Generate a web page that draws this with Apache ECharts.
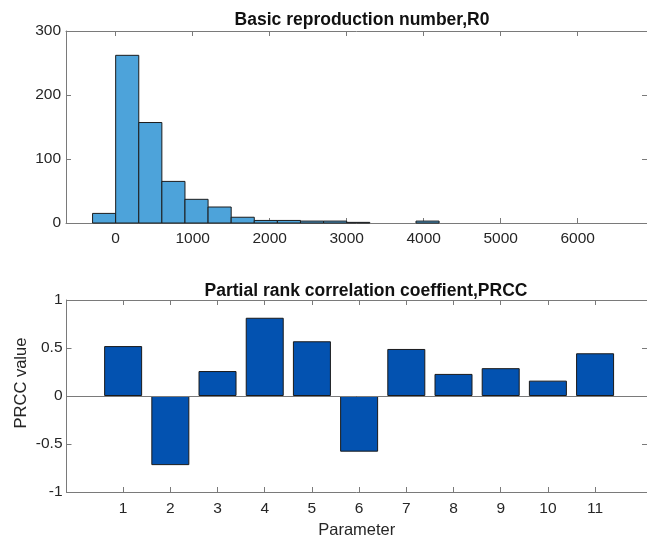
<!DOCTYPE html>
<html>
<head>
<meta charset="utf-8">
<script src="https://cdn.jsdelivr.net/npm/echarts@6/dist/echarts.min.js"></script>
<style>html,body{margin:0;padding:0;background:#fff;}#c{width:647px;height:541px;}</style>
</head>
<body>
<div id="c"></div>
<script>
// Histogram of R0: bin edges (lower, upper) and counts
var binLower = [-300, 0, 300, 600, 900, 1200, 1500, 1800, 2100, 2400, 2700, 3000, 3900];
var binUpper = [0, 300, 600, 900, 1200, 1500, 1800, 2100, 2400, 2700, 3000, 3300, 4200];
var binCounts = [15, 262, 157, 65, 37, 25, 9, 4, 4, 3, 3, 1, 3];
var histXTicks = [0, 1000, 2000, 3000, 4000, 5000, 6000];

// PRCC
var parameters = [1, 2, 3, 4, 5, 6, 7, 8, 9, 10, 11];
var prccValues = [0.52, -0.72, 0.26, 0.815, 0.57, -0.58, 0.49, 0.23, 0.29, 0.16, 0.445];

var FONT = '"Liberation Sans", Arial, Helvetica, sans-serif';
var AX = '#7a7a7a';
var TXT = '#262626';

var histData = binLower.map(function (lo, i) { return [lo, binUpper[i], binCounts[i]]; });
var prccData = parameters.map(function (p, i) { return [p, prccValues[i]]; });

var chart = echarts.init(document.getElementById('c'), null, { renderer: 'canvas' });

function plain(v) { return String(v); }
function axLine() { return { show: true, onZero: false, lineStyle: { color: AX, width: 1 } }; }
function tick() { return { show: true, inside: true, length: 5, lineStyle: { color: AX } }; }

var option = {
  backgroundColor: '#fff',
  animation: false,
  title: [
    { text: 'Basic reproduction number,R0', left: 357, top: 6, textAlign: 'center',
      textStyle: { fontFamily: FONT, fontSize: 17.5, fontWeight: 'bold', color: '#111' } },
    { text: 'Partial rank correlation coeffient,PRCC', left: 361, top: 277, textAlign: 'center',
      textStyle: { fontFamily: FONT, fontSize: 17.5, fontWeight: 'bold', color: '#111' } }
  ],
  grid: [
    { left: 66, top: 31, width: 582, height: 192 },
    { left: 66.5, top: 300, width: 582, height: 192 }
  ],
  xAxis: [
    { type: 'value', gridIndex: 0, min: -645, max: 6900, position: 'bottom',
      splitLine: { show: false }, axisLine: axLine(),
      axisTick: { show: true, inside: true, length: 5, customValues: histXTicks, lineStyle: { color: AX } },
      axisLabel: { customValues: histXTicks, formatter: plain, color: TXT, fontFamily: FONT, fontSize: 15.5, margin: 8 } },
    { type: 'value', gridIndex: 0, min: -645, max: 6900, position: 'top',
      splitLine: { show: false }, axisLine: axLine(),
      axisTick: { show: true, inside: true, length: 5, customValues: histXTicks, lineStyle: { color: AX } },
      axisLabel: { show: false } },
    { type: 'value', gridIndex: 1, min: -0.2, max: 12.1, position: 'bottom',
      name: 'Parameter', nameLocation: 'middle', nameGap: 30,
      nameTextStyle: { fontFamily: FONT, fontSize: 16.5, color: TXT },
      splitLine: { show: false }, axisLine: axLine(),
      axisTick: { show: true, inside: true, length: 5, customValues: parameters, lineStyle: { color: AX } },
      axisLabel: { customValues: parameters, formatter: plain, color: TXT, fontFamily: FONT, fontSize: 15.5, margin: 9 } },
    { type: 'value', gridIndex: 1, min: -0.2, max: 12.1, position: 'top',
      splitLine: { show: false }, axisLine: axLine(),
      axisTick: { show: true, inside: true, length: 5, customValues: parameters, lineStyle: { color: AX } },
      axisLabel: { show: false } }
  ],
  yAxis: [
    { type: 'value', gridIndex: 0, min: 0, max: 300, interval: 100, position: 'left',
      splitLine: { show: false }, axisLine: axLine(), axisTick: tick(),
      axisLabel: { formatter: plain, color: TXT, fontFamily: FONT, fontSize: 15.5, margin: 5 } },
    { type: 'value', gridIndex: 1, min: -1, max: 1, interval: 0.5, position: 'left',
      splitLine: { show: false }, axisLine: axLine(), axisTick: tick(),
      axisLabel: { formatter: plain, color: TXT, fontFamily: FONT, fontSize: 15.5, margin: 4 } },
    { type: 'value', gridIndex: 0, min: 0, max: 300, interval: 100, position: 'right',
      splitLine: { show: false }, axisLine: axLine(), axisTick: tick(), axisLabel: { show: false } },
    { type: 'value', gridIndex: 1, min: -1, max: 1, interval: 0.5, position: 'right',
      splitLine: { show: false }, axisLine: axLine(), axisTick: tick(), axisLabel: { show: false } }
  ],
  graphic: [
    { type: 'text', x: 21, y: 383, rotation: Math.PI / 2,
      style: { text: 'PRCC value', fontFamily: FONT, fontSize: 16.5, fill: TXT,
               textAlign: 'center', textVerticalAlign: 'middle' } }
  ],
  series: [
    { type: 'custom', xAxisIndex: 0, yAxisIndex: 0, data: histData,
      encode: { x: [0, 1], y: 2 },
      renderItem: function (params, api) {
        var p0 = api.coord([api.value(0), api.value(2)]);
        var p1 = api.coord([api.value(1), 0]);
        return { type: 'rect',
          shape: { x: p0[0], y: p0[1], width: p1[0] - p0[0], height: p1[1] - p0[1] },
          style: { fill: '#4DA3DA', stroke: '#1c1c1c', lineWidth: 1 } };
      } },
    { type: 'bar', xAxisIndex: 2, yAxisIndex: 1, data: prccData, barWidth: 38,
      itemStyle: { color: '#0352B0', borderColor: '#1a1a1a', borderWidth: 1 },
      markLine: { silent: true, symbol: ['none', 'none'], label: { show: false },
        lineStyle: { color: AX, width: 1, type: 'solid' },
        data: [{ yAxis: 0 }] } }
  ]
};
chart.setOption(option);
</script>
</body>
</html>
